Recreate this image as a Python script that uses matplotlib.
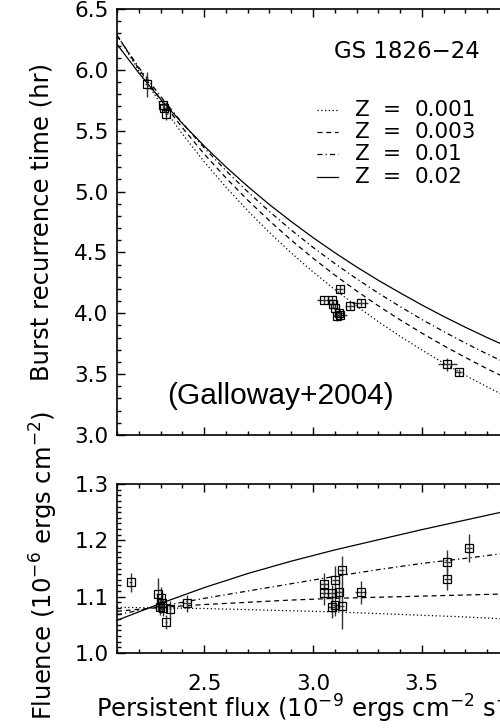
import matplotlib
matplotlib.use("Agg")
import matplotlib.pyplot as plt
from matplotlib.ticker import MultipleLocator, FormatStrFormatter

plt.rcParams["font.family"] = ["DejaVu Sans"]
plt.rcParams["mathtext.default"] = "regular"

# ---- model curves (persistent flux grid) ----
flux_grid = [2.1, 2.2, 2.3, 2.4, 2.5, 2.6, 2.7, 2.8, 2.9, 3.0,
             3.1, 3.2, 3.3, 3.4, 3.5, 3.6, 3.7, 3.8, 3.9]
trec_z001 = [6.290, 5.993, 5.722, 5.474, 5.246, 5.037, 4.843, 4.663, 4.496,
             4.340, 4.195, 4.059, 3.931, 3.811, 3.698, 3.591, 3.490, 3.395, 3.304]
trec_z003 = [6.285, 6.009, 5.756, 5.525, 5.310, 5.113, 4.930, 4.760, 4.601,
             4.453, 4.314, 4.184, 4.061, 3.946, 3.837, 3.734, 3.637, 3.544, 3.456]
trec_z01 = [6.280, 6.021, 5.782, 5.563, 5.360, 5.173, 4.999, 4.836, 4.684,
            4.542, 4.409, 4.284, 4.166, 4.055, 3.949, 3.850, 3.755, 3.665, 3.580]
trec_z02 = [6.210, 5.975, 5.759, 5.560, 5.375, 5.203, 5.043, 4.893, 4.754,
            4.622, 4.498, 4.381, 4.271, 4.168, 4.068, 3.974, 3.885, 3.800, 3.720]

flux_grid_f = [2.1, 2.3, 2.5, 2.7, 2.9, 3.1, 3.3, 3.5, 3.7, 3.9]
flu_z001 = [1.081, 1.080, 1.079, 1.077, 1.075, 1.073, 1.070, 1.067, 1.064, 1.060]
flu_z003 = [1.074, 1.081, 1.086, 1.090, 1.094, 1.097, 1.099, 1.101, 1.103, 1.105]
flu_z01 = [1.068, 1.083, 1.097, 1.110, 1.123, 1.136, 1.148, 1.159, 1.168, 1.178]
flu_z02 = [1.058, 1.088, 1.116, 1.141, 1.163, 1.183, 1.201, 1.219, 1.236, 1.253]

# ---- observed bursts: recurrence time ----
obs_flux = [2.236, 2.312, 2.318, 2.325, 3.123, 3.050, 3.085, 3.092, 3.100,
            3.111, 3.120, 3.126, 3.169, 3.219, 3.617, 3.669]
obs_flux_err = [0.006, 0.006, 0.006, 0.006, 0.017, 0.03, 0.017, 0.017, 0.017,
                0.017, 0.017, 0.03, 0.02, 0.035, 0.042, 0.017]
obs_trec = [5.88, 5.71, 5.69, 5.64, 4.20, 4.11, 4.11, 4.075, 4.045,
            3.975, 4.00, 3.985, 4.06, 4.087, 3.58, 3.515]
obs_trec_err = [0.105, 0.04, 0.04, 0.05, 0.035, 0.03, 0.03, 0.03, 0.03,
                0.035, 0.03, 0.04, 0.03, 0.03, 0.055, 0.03]

# ---- observed bursts: fluence ----
fl_flux = [2.163, 2.287, 2.300, 2.305, 2.297, 2.312, 2.325, 2.343, 2.420,
           3.051, 3.051, 3.088, 3.103, 3.120, 3.131, 3.088, 3.103, 3.131,
           3.219, 3.617, 3.617, 3.716]
fl_flux_err = [0.006, 0.006, 0.006, 0.006, 0.006, 0.006, 0.006, 0.006, 0.02,
               0.02, 0.02, 0.017, 0.017, 0.017, 0.012, 0.017, 0.012, 0.012,
               0.025, 0.017, 0.017, 0.012]
fl_val = [1.1255, 1.104, 1.097, 1.088, 1.082, 1.080, 1.055, 1.0775, 1.088,
          1.1225, 1.106, 1.106, 1.1296, 1.109, 1.1473, 1.0822, 1.0852, 1.0834,
          1.1077, 1.162, 1.131, 1.186]
fl_err = [0.017, 0.03, 0.02, 0.015, 0.015, 0.015, 0.013, 0.015, 0.015,
          0.02, 0.02, 0.015, 0.025, 0.02, 0.025, 0.02, 0.02, 0.04,
          0.02, 0.02, 0.02, 0.025]

z_labels = ["0.001", "0.003", "0.01", "0.02"]
styles = [(0, (1, 2)), (0, (4, 3)), (0, (4, 2.5, 1, 2.5)), "-"]

W, H = 500, 728
fig = plt.figure(figsize=(W / 100, H / 100), dpi=100)

def px(x0, y0, x1, y1):
    return [x0 / W, 1 - y1 / H, (x1 - x0) / W, (y1 - y0) / H]

ax1 = fig.add_axes(px(117, 9, 509, 435))
ax2 = fig.add_axes(px(117, 484, 509, 653))

for ax in (ax1, ax2):
    ax.set_xlim(2.1, 3.9)
    ax.xaxis.set_major_locator(MultipleLocator(0.5))
    ax.xaxis.set_minor_locator(MultipleLocator(0.1))
    ax.tick_params(which="both", direction="in", top=True, right=True,
                   width=1.0, labelsize=15.5)
    ax.tick_params(which="major", length=6)
    ax.tick_params(which="minor", length=3)
    ax.tick_params(axis="y", pad=6)
    for s in ax.spines.values():
        s.set_linewidth(1.2)
    ax.yaxis.set_major_formatter(FormatStrFormatter("%.1f"))

# top panel
ax1.set_ylim(3.0, 6.5)
ax1.yaxis.set_major_locator(MultipleLocator(0.5))
ax1.yaxis.set_minor_locator(MultipleLocator(0.1))
ax1.tick_params(axis="x", labelbottom=False)
for y, ls in zip([trec_z001, trec_z003, trec_z01, trec_z02], styles):
    ax1.plot(flux_grid, y, color="k", lw=0.9, ls=ls)
ax1.errorbar(obs_flux, obs_trec, xerr=obs_flux_err, yerr=obs_trec_err,
             fmt="s", ms=5.4, mfc="none", mec="k", mew=0.9,
             ecolor="0.2", elinewidth=1.0, capsize=0)

# bottom panel
ax2.set_ylim(1.0, 1.3)
ax2.yaxis.set_major_locator(MultipleLocator(0.1))
ax2.yaxis.set_minor_locator(MultipleLocator(0.01))
ax2.xaxis.set_major_formatter(FormatStrFormatter("%.1f"))
ax2.tick_params(axis="x", pad=15)
for y, ls in zip([flu_z001, flu_z003, flu_z01, flu_z02], styles):
    ax2.plot(flux_grid_f, y, color="k", lw=0.9, ls=ls)
ax2.errorbar(fl_flux, fl_val, xerr=fl_flux_err, yerr=fl_err,
             fmt="s", ms=5.2, mfc="none", mec="k", mew=0.9,
             ecolor="0.2", elinewidth=1.0, capsize=0)

# annotations
fig.text(407 / W, 1 - 52 / H, "GS 1826\u221224", ha="center", va="center",
         fontsize=16.5)
rows_y = [110, 132, 154, 177]
for ry, ls, zl in zip(rows_y, styles, z_labels):
    fig.add_artist(plt.Line2D([317 / W, 338 / W], [1 - ry / H, 1 - ry / H],
                              color="k", lw=0.9, ls=ls))
    fig.text(355 / W, 1 - ry / H, "Z", ha="left", va="center", fontsize=15.5)
    fig.text(392 / W, 1 - ry / H, "=", ha="center", va="center", fontsize=15.5)
    fig.text(415 / W, 1 - ry / H, zl, ha="left", va="center", fontsize=15.5)

fig.text(167 / W, 1 - 396 / H, "(Galloway+2004)", ha="left", va="center",
         fontsize=21.5, family="Liberation Sans")

fig.text(42 / W, 1 - 222 / H, "Burst recurrence time (hr)", rotation=90,
         ha="center", va="center", fontsize=17.5)
fig.text(44 / W, 1 - 565 / H, "Fluence (10$^{-6}$ ergs cm$^{-2}$)",
         rotation=90, ha="center", va="center", fontsize=17.5)
fig.text(313 / W, 1 - 718 / H,
         "Persistent flux (10$^{-9}$ ergs cm$^{-2}$ s$^{-1}$)",
         ha="center", va="baseline", fontsize=17.5)

fig.savefig("out.png", dpi=100)
